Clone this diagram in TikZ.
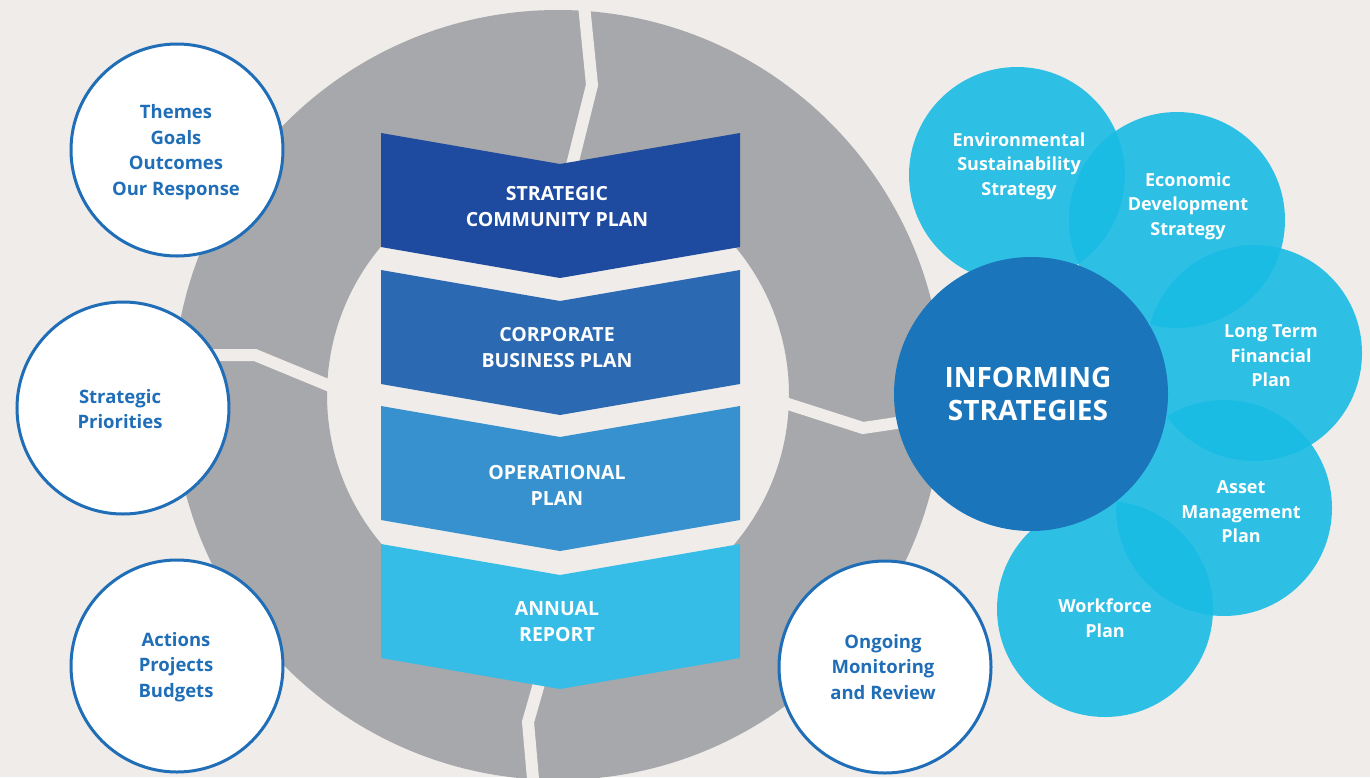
\documentclass[tikz,border=0pt]{standalone}
\usepackage{fontspec}
\setmainfont{Open Sans}
\usepackage{tikz}

\definecolor{bgcol}{HTML}{EFECE9}
\definecolor{ringgrey}{HTML}{A7A8AB}
\definecolor{plandark}{HTML}{1E4A9F}
\definecolor{planmid}{HTML}{2B6AB3}
\definecolor{planlight}{HTML}{3791CF}
\definecolor{plansky}{HTML}{35BDE7}
\definecolor{informblue}{HTML}{1B75BB}
\definecolor{strategycyan}{RGB}{26,188,228}
\definecolor{rimblue}{HTML}{1F6EB7}

\begin{document}
\begin{tikzpicture}[x=1pt,y=-1pt]
\tikzstyle{every node}+=[inner sep=0pt, align=center]
\tikzstyle{ringgap}=[draw=bgcol, line width=12pt, line join=miter]
\tikzstyle{bubble}=[fill=white, draw=rimblue, line width=3pt]
\tikzstyle{strategy}=[fill=strategycyan, fill opacity=0.9]
\tikzstyle{bluetext}=[text=rimblue, font=\fontsize{18.5}{25.5}\selectfont\bfseries]
\tikzstyle{whitetext}=[text=white, font=\fontsize{19.5}{26}\selectfont\bfseries]
\tikzstyle{strategytext}=[text=white, font=\fontsize{18}{24.5}\selectfont\bfseries]
\fill [bgcol] (0,0) rectangle (1370,777);
\useasboundingbox (0,0) rectangle (1370,777);
% grey ring
\begin{scope}
\clip (0,0) rectangle (1370,777);
\fill [ringgrey, even odd rule] (558,395) circle (385pt) (558,395) circle (231pt);
\draw [ringgap] (583,-5) -- (592,85) -- (572,165);
\draw [ringgap] (160,355) -- (255,355) -- (335,388);
\draw [ringgap] (785,403) -- (863,428) -- (910,421);
\draw [ringgap] (540,680) -- (528,722) -- (534,790);
\end{scope}
% plan chevrons
\fill [plandark] (381,133) -- (560,164) -- (740,133) -- (740,247) -- (560,278) -- (381,247) -- cycle;
\node [whitetext] (community) at (557,207) {STRATEGIC\\COMMUNITY PLAN};
\fill [planmid] (381,270) -- (560,301) -- (740,270) -- (740,384) -- (560,415) -- (381,384) -- cycle;
\node [whitetext] (corporate) at (557,348) {CORPORATE\\BUSINESS PLAN};
\fill [planlight] (381,406) -- (560,437) -- (740,406) -- (740,520) -- (560,551) -- (381,520) -- cycle;
\node [whitetext] (operational) at (557,485) {OPERATIONAL\\PLAN};
\fill [plansky] (381,544) -- (560,575) -- (740,544) -- (740,658) -- (560,689) -- (381,658) -- cycle;
\node [whitetext] (annual) at (557,622) {ANNUAL\\REPORT};
% white circles
\draw [bubble] (177,150) circle (106pt);
\node [bluetext] (themes) at (176,152) {Themes\\Goals\\Outcomes\\Our Response};
\draw [bubble] (123,408) circle (106pt);
\node [bluetext] (priorities) at (120,409) {Strategic\\Priorities};
\draw [bubble] (177,666) circle (106pt);
\node [bluetext] (actions) at (176,667) {Actions\\Projects\\Budgets};
\draw [bubble] (885,667) circle (106pt);
\node [bluetext] (monitoring) at (883,667) {Ongoing\\Monitoring\\and Review};
% informing strategies
\fill [strategy] (1017,175) circle (108pt);
\fill [strategy] (1177,220) circle (108pt);
\fill [strategy] (1254,353) circle (108pt);
\fill [strategy] (1224,508) circle (108pt);
\fill [strategy] (1105,609) circle (108pt);
\fill [informblue] (1031,394) circle (137pt);
\node [text=white, font=\fontsize{28}{33}\selectfont\bfseries] (informing) at (1028,394) {INFORMING\\STRATEGIES};
\node [strategytext] (environment) at (1019,166) {Environmental\\Sustainability\\Strategy};
\node [strategytext] (economic) at (1188,206) {Economic\\Development\\Strategy};
\node [strategytext] (financial) at (1271,356) {Long Term\\Financial\\Plan};
\node [strategytext] (asset) at (1241,512) {Asset\\Management\\Plan};
\node [strategytext] (workforce) at (1105,618) {Workforce\\Plan};
\end{tikzpicture}
\end{document}
